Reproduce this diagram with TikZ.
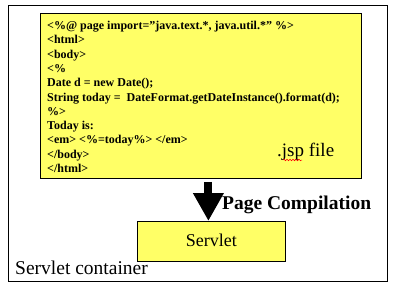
\documentclass[tikz,border=0pt]{standalone}
\usepackage{fontspec}
\setmainfont{Liberation Serif}
\usetikzlibrary{positioning, arrows.meta, decorations.pathmorphing}

\definecolor{notepad}{RGB}{255,255,102}

\begin{document}
\begin{tikzpicture}[
        x=1pt, y=-1pt,
        box/.style={
            draw=black,
            fill=notepad,
            line width=0.8pt,
            inner sep=0pt
        },
        blockarrow/.style={
            line width=8pt,
            -{Triangle[width=29pt, length=28pt]}
        }
    ]
        \useasboundingbox (0,0) rectangle (393,287);

        % Outer frame
        \node[draw=black, line width=0.8pt, minimum width=379pt, minimum height=276pt,
              inner sep=0pt, anchor=north west] (container) at (8,5) {};

        % Boxes
        \node[box, minimum width=321pt, minimum height=165pt, anchor=north west] (jsp) at (40,13) {};
        \node[box, minimum width=148pt, minimum height=40pt, anchor=north west] (servlet) at (137,221) {};

        % Code listing
        \node[anchor=north west, inner sep=0pt, align=left,
              font=\fontsize{12}{14.3}\selectfont\bfseries] (code) at (47,21) {
            <\%@ page import=\symbol{34}java.text.*, java.util.*\symbol{34} \%>\\
            <html>\\
            <body>\\
            <\%\\
            Date d = new Date();\\
            String today =\ \ DateFormat.getDateInstance().format(d);\\
            \%>\\
            Today is:\\
            <em> <\%=today\%> </em>\\
            </body>\\
            </html>
        };

        % Labels
        \node[font=\fontsize{19}{22}\selectfont, anchor=west, inner sep=0pt] (jsplabel) at (277,152) {.jsp file};
        \node[font=\fontsize{18}{22}\selectfont, inner sep=0pt] (servletlabel) at ([yshift=1pt]servlet.center) {Servlet};
        \node[font=\fontsize{19.5}{22}\selectfont, anchor=west, inner sep=0pt] (containerlabel) at (15,268) {Servlet container};
        \node[font=\fontsize{19.5}{22}\selectfont\bfseries, anchor=west, inner sep=0pt] (compile) at (222,205) {Page Compilation};

        % Spelling underline
        \coordinate (squigA) at (283,160);
        \coordinate (squigB) at (302,160);
        \draw[red, line width=0.5pt, decorate, decoration={snake, amplitude=0.8pt, segment length=3pt}] (squigA) -- (squigB);

        % Compilation arrow
        \draw[blockarrow, shorten <=3pt] ([xshift=7.5pt]jsp.south) -- ([xshift=-3pt]servlet.north);
    \end{tikzpicture}
\end{document}
